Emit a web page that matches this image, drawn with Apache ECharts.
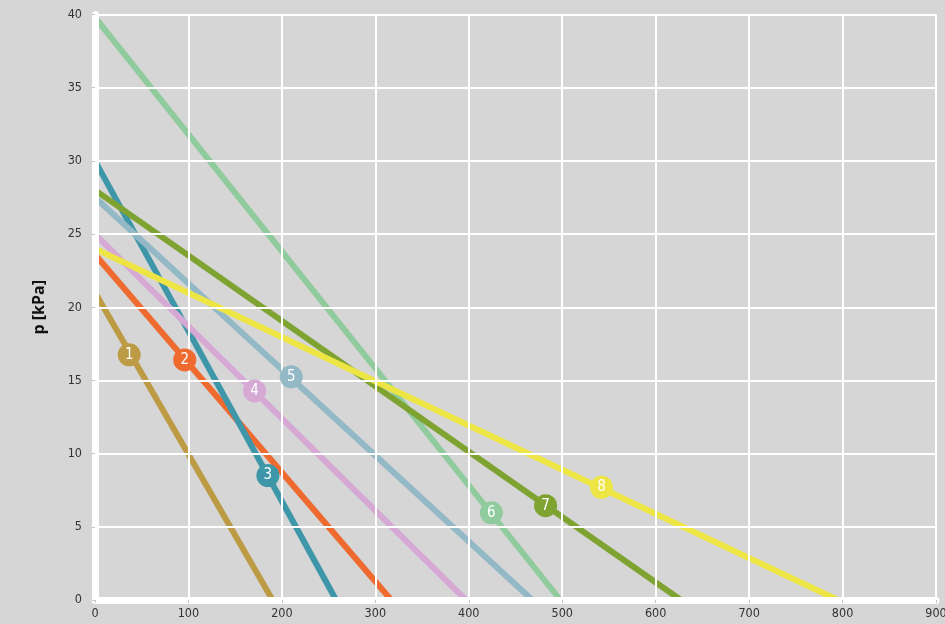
<!DOCTYPE html>
<html><head><meta charset="utf-8">
<script src="https://cdn.jsdelivr.net/npm/echarts@6/dist/echarts.min.js"></script>
<style>html,body{margin:0;padding:0;background:#d6d6d6;}#c{width:945px;height:624px;}</style>
</head><body><div id="c"></div>
<script>
const names = ['1','2','3','4','5','6','7','8'];
const colors = ['#bd9b45','#ee6a2f','#3e97a9','#d6a9d5','#93b8c6','#8fcb9c','#7ea331','#ede544'];
const startP = [21, 23.6, 30, 25, 27.5, 39.8, 28, 24];      // p at x=0
const endX   = [190, 317, 258, 397, 468, 498, 627, 795];     // x at p=0
const labelX = [36.6, 96, 185, 170.8, 210, 424.2, 482.2, 542];
const labelY = [16.75, 16.4, 8.5, 14.28, 15.25, 5.96, 6.44, 7.7];
const xTicks = [0,100,200,300,400,500,600,700,800,900];
const yTicks = [0,5,10,15,20,25,30,35,40];

const font = "'Liberation Sans Narrow','DejaVu Sans Condensed',sans-serif";
const series = [];
names.forEach((n,i)=>{
  series.push({type:'line', name:n, data:[[0,startP[i]],[endX[i],0]], symbol:'none',
    lineStyle:{color:colors[i], width:6}, z:2, animation:false});
});
names.forEach((n,i)=>{
  series.push({type:'scatter', data:[[labelX[i],labelY[i]]], symbolSize:23,
    itemStyle:{color:colors[i], opacity:1}, z:5, animation:false,
    label:{show:true, position:'inside', formatter:n, color:'#fff', fontSize:15, fontFamily:font}});
});
const chart = echarts.init(document.getElementById('c'));
chart.setOption({
  backgroundColor:'#d6d6d6',
  animation:false,
  grid:{left:95, right:9, top:14.5, bottom:24, containLabel:false, outerBoundsMode:'none'},
  xAxis:{type:'value', min:0, max:900, interval:100, z:4,
    axisLine:{show:true, lineStyle:{color:'#ffffff', width:7}},
    axisTick:{show:true, length:3, lineStyle:{color:'#c4c4c4'}},
    axisLabel:{color:'#333', fontSize:12.5, fontFamily:font, margin:7},
    splitLine:{show:true, lineStyle:{color:'#ffffff', width:2}}},
  yAxis:{type:'value', min:0, max:40, interval:5, z:4,
    name:'p [kPa]', nameLocation:'middle', nameGap:48, nameRotate:90,
    nameTextStyle:{color:'#111', fontSize:16, fontWeight:'bold', fontFamily:"'Open Sans',sans-serif"},
    axisLine:{show:true, lineStyle:{color:'#ffffff', width:7}},
    axisTick:{show:true, length:3, lineStyle:{color:'#c4c4c4'}},
    axisLabel:{color:'#333', fontSize:12.5, fontFamily:font, margin:13},
    splitLine:{show:true, lineStyle:{color:'#ffffff', width:2}}},
  series:series
});
</script></body></html>
